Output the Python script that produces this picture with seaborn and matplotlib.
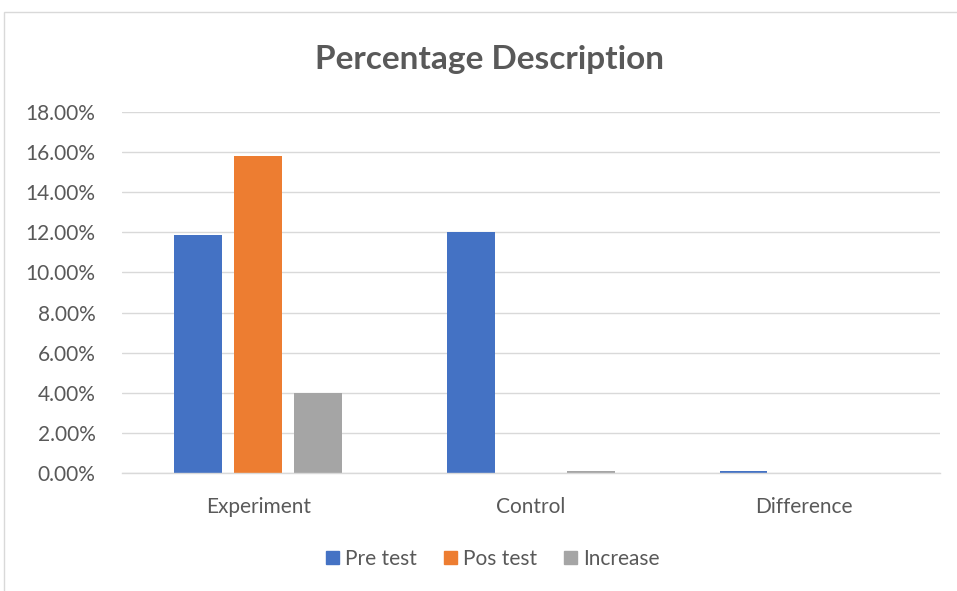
import matplotlib
matplotlib.use('Agg')
import numpy as np
import pandas as pd
import matplotlib.pyplot as plt
import seaborn as sns
from matplotlib.patches import Rectangle
from matplotlib.ticker import PercentFormatter

categories = ['Experiment', 'Control', 'Difference']
series = ['Pre test', 'Pos test', 'Increase']
pre_test = [0.1185, 0.1200, 0.0012]
pos_test = [0.1580, 0.0, 0.0]
increase = [0.0400, 0.0010, 0.0]
colors = ['#4472C4', '#ED7D31', '#A5A5A5']

df = pd.DataFrame({'category': categories * 3,
                   'series': np.repeat(series, 3),
                   'value': pre_test + pos_test + increase})

sns.set_theme(style='white')
plt.rcParams['font.family'] = ['Lato', 'DejaVu Sans']

fig = plt.figure(figsize=(9.57, 5.91), dpi=100)
ax = fig.add_axes([0.1275, 0.1997, 0.8545, 0.6108])

sns.barplot(data=df, x='category', y='value', hue='series', order=categories,
            hue_order=series, palette=colors, width=0.66, gap=0.2,
            saturation=1, linewidth=0, ax=ax, legend=False)

ax.set_ylim(0, 0.18)
ax.set_yticks(np.arange(0, 0.181, 0.02))
ax.yaxis.set_major_formatter(PercentFormatter(1.0, decimals=2))
ax.grid(axis='y', color='#D9D9D9', linewidth=1)
ax.set_axisbelow(True)
for s in ['top', 'right', 'left']:
    ax.spines[s].set_visible(False)
ax.spines['bottom'].set_color('#D9D9D9')
ax.spines['bottom'].set_linewidth(1)
ax.tick_params(axis='both', length=0, labelsize=15, labelcolor='#595959')
ax.tick_params(axis='x', pad=17)
ax.tick_params(axis='y', pad=19)
ax.set_xlabel('')
ax.set_ylabel('')

fig.text(0.512, 0.899, 'Percentage Description', ha='center', va='center',
         fontsize=24, fontweight='bold', color='#595959')

handles = [Rectangle((0, 0), 1, 1, color=c) for c in colors]
fig.legend(handles, series, loc='center', bbox_to_anchor=(0.515, 0.054),
           ncol=3, frameon=False, fontsize=15, labelcolor='#595959',
           handlelength=0.6, handleheight=0.6, handletextpad=0.3,
           columnspacing=1.3)

fig.patches.append(Rectangle((4 / 957, -0.1), 1.2, 1 - 12 / 591 + 0.1,
                             transform=fig.transFigure, fill=False,
                             edgecolor='#D9D9D9', linewidth=1))

fig.savefig('out.png', dpi=100)
